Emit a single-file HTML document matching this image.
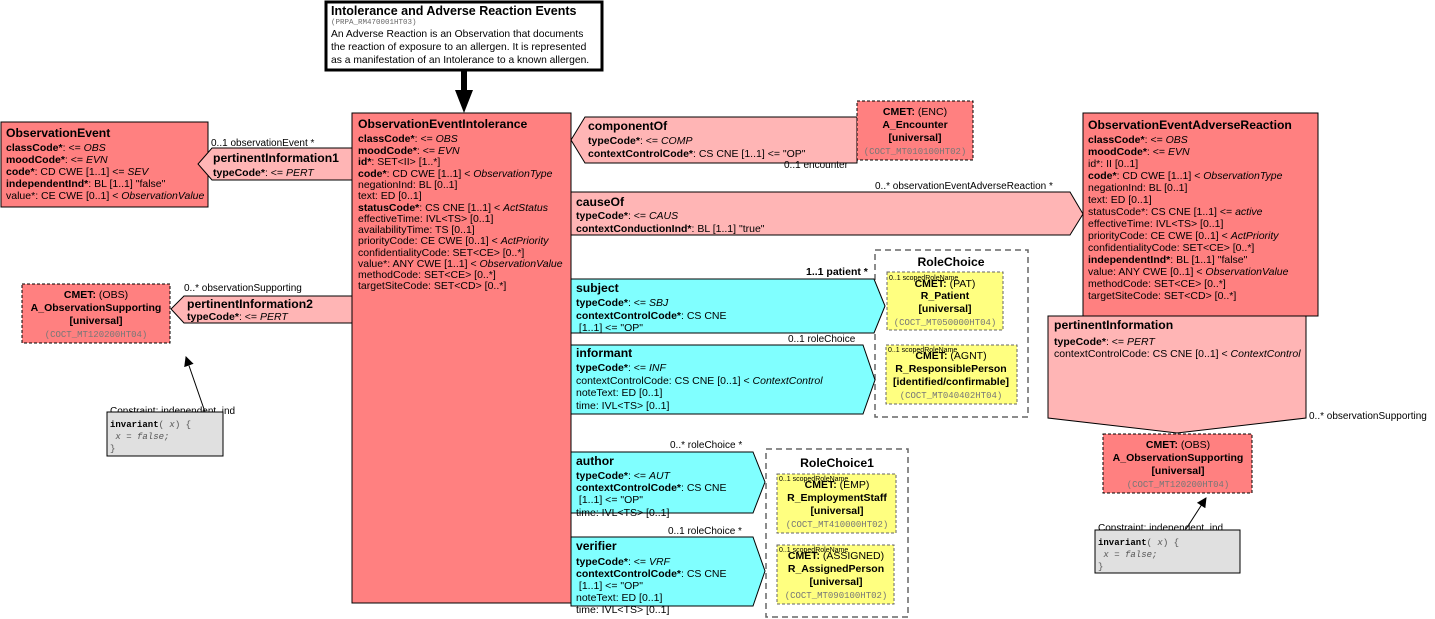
<!DOCTYPE html>
<html><head><meta charset="utf-8"><style>
html,body{margin:0;padding:0;background:#fff;}
svg{display:block;font-family:"Liberation Sans",Arial,sans-serif;}
.t{font-size:10.5px;fill:#000;}
.h{font-size:12.2px;font-weight:bold;}
.b{font-weight:bold;}
.i{font-style:italic;}
.m{font-family:"Liberation Mono",monospace;font-size:9px;fill:#777;}
.s{font-size:7px;}
.c{text-anchor:middle;}
</style></head><body>
<svg width="1435" height="619" viewBox="0 0 1435 619" xmlns="http://www.w3.org/2000/svg">
<defs><marker id="ah" markerWidth="10" markerHeight="10" refX="9" refY="5" orient="auto" markerUnits="userSpaceOnUse"><path d="M0,0 L10,5 L0,10 z" fill="#000"/></marker></defs>

<!-- Title -->
<rect x="326" y="2" width="276" height="68" fill="#fff" stroke="#000" stroke-width="3"/>
<text x="331" y="15" class="t h" style="font-size:12.5px">Intolerance and Adverse Reaction Events</text>
<text x="331" y="24" class="m" style="fill:#666;font-size:7.5px">(PRPA_RM470001HT03)</text>
<text class="t" style="font-size:10.3px"><tspan x="331" y="37">An Adverse Reaction is an Observation that documents</tspan><tspan x="331" y="50">the reaction of exposure to an allergen.  It is represented</tspan><tspan x="331" y="63">as a manifestation of an Intolerance to a known allergen.</tspan></text>
<line x1="464" y1="71" x2="464" y2="94" stroke="#000" stroke-width="6"/>
<path d="M455,90 L473,90 L464,113 z" fill="#000"/>

<!-- ObservationEventIntolerance -->
<rect x="352" y="113" width="219" height="490" fill="#ff8080" stroke="#000"/>
<text x="358" y="128" class="t h">ObservationEventIntolerance</text>
<text class="t">
<tspan x="358" y="142"><tspan class="b">classCode*</tspan>: &lt;= <tspan class="i">OBS</tspan></tspan>
<tspan x="358" y="154"><tspan class="b">moodCode*</tspan>: &lt;= <tspan class="i">EVN</tspan></tspan>
<tspan x="358" y="165"><tspan class="b">id*</tspan>: SET&lt;II&gt; [1..*]</tspan>
<tspan x="358" y="177"><tspan class="b">code*</tspan>: CD CWE [1..1] &lt; <tspan class="i">ObservationType</tspan></tspan>
<tspan x="358" y="188">negationInd: BL [0..1]</tspan>
<tspan x="358" y="199">text: ED [0..1]</tspan>
<tspan x="358" y="211"><tspan class="b">statusCode*</tspan>: CS CNE [1..1] &lt; <tspan class="i">ActStatus</tspan></tspan>
<tspan x="358" y="222">effectiveTime: IVL&lt;TS&gt; [0..1]</tspan>
<tspan x="358" y="233">availabilityTime: TS [0..1]</tspan>
<tspan x="358" y="244">priorityCode: CE CWE [0..1] &lt; <tspan class="i">ActPriority</tspan></tspan>
<tspan x="358" y="256">confidentialityCode: SET&lt;CE&gt; [0..*]</tspan>
<tspan x="358" y="267">value*: ANY CWE [1..1] &lt; <tspan class="i">ObservationValue</tspan></tspan>
<tspan x="358" y="278">methodCode: SET&lt;CE&gt; [0..*]</tspan>
<tspan x="358" y="289">targetSiteCode: SET&lt;CD&gt; [0..*]</tspan>
</text>

<!-- ObservationEvent -->
<rect x="1" y="122" width="207" height="85" fill="#ff8080" stroke="#000"/>
<text x="6" y="137" class="t h">ObservationEvent</text>
<text class="t">
<tspan x="6" y="151"><tspan class="b">classCode*</tspan>: &lt;= <tspan class="i">OBS</tspan></tspan>
<tspan x="6" y="163"><tspan class="b">moodCode*</tspan>: &lt;= <tspan class="i">EVN</tspan></tspan>
<tspan x="6" y="175"><tspan class="b">code*</tspan>: CD CWE [1..1] &lt;= <tspan class="i">SEV</tspan></tspan>
<tspan x="6" y="187"><tspan class="b">independentInd*</tspan>: BL [1..1] "false"</tspan>
<tspan x="6" y="199">value*: CE CWE [0..1] &lt; <tspan class="i">ObservationValue</tspan></tspan>
</text>

<!-- pertinentInformation1 -->
<path d="M352,148 L212,148 L198,164 L212,180 L352,180 z" fill="#ffb5b5" stroke="#000"/>
<text x="211" y="146" class="t" style="font-size:10px">0..1 observationEvent  *</text>
<text x="213" y="162" class="t h">pertinentInformation1</text>
<text x="213" y="176" class="t"><tspan class="b">typeCode*</tspan>: &lt;= <tspan class="i">PERT</tspan></text>

<!-- left CMET -->
<rect x="22" y="284" width="148" height="59" fill="#ff8080" stroke="#000" stroke-dasharray="3,2"/>
<text class="t c"><tspan x="96" y="298"><tspan class="b">CMET:</tspan> (OBS)</tspan><tspan x="96" y="311" class="b">A_ObservationSupporting</tspan><tspan x="96" y="324" class="b">[universal]</tspan></text>
<text x="96" y="337" class="m c">(COCT_MT120200HT04)</text>

<!-- pertinentInformation2 -->
<path d="M352,296 L184,296 L171,309 L184,323 L352,323 z" fill="#ffb5b5" stroke="#000"/>
<text x="184" y="291" class="t" style="font-size:10px">0..* observationSupporting</text>
<text x="187" y="308" class="t h">pertinentInformation2</text>
<text x="187" y="320" class="t"><tspan class="b">typeCode*</tspan>: &lt;= <tspan class="i">PERT</tspan></text>

<!-- left constraint -->
<line x1="205" y1="412" x2="186" y2="357" stroke="#000" marker-end="url(#ah)"/>
<text x="110" y="414" class="t" style="font-size:10px">Constraint: independent_ind</text>
<rect x="107" y="412" width="116" height="44" fill="#e0e0e0" stroke="#000"/>
<text class="m" style="fill:#555"><tspan x="110" y="427"><tspan class="b" style="fill:#000">invariant</tspan>( <tspan class="i">x</tspan>) {</tspan><tspan x="110" y="439" class="i">  x = false;</tspan><tspan x="110" y="451">}</tspan></text>

<!-- componentOf -->
<path d="M857,117 L585,117 L571,140 L585,163 L857,163 z" fill="#ffb5b5" stroke="#000"/>
<text x="588" y="130" class="t h">componentOf</text>
<text class="t"><tspan x="588" y="144"><tspan class="b">typeCode*</tspan>: &lt;= <tspan class="i">COMP</tspan></tspan><tspan x="588" y="157"><tspan class="b">contextControlCode*</tspan>: CS CNE [1..1] &lt;= "OP"</tspan></text>
<text x="784" y="168" class="t" style="font-size:10px">0..1 encounter</text>
<rect x="857" y="101" width="116" height="59" fill="#ff8080" stroke="#000" stroke-dasharray="3,2"/>
<text class="t c"><tspan x="915" y="115"><tspan class="b">CMET:</tspan> (ENC)</tspan><tspan x="915" y="128" class="b">A_Encounter</tspan><tspan x="915" y="141" class="b">[universal]</tspan></text>
<text x="915" y="154" class="m c">(COCT_MT010100HT02)</text>

<!-- causeOf -->
<path d="M571,192 L1070,192 L1083,214 L1070,235 L571,235 z" fill="#ffb5b5" stroke="#000"/>
<text x="875" y="189" class="t" style="font-size:10px">0..* observationEventAdverseReaction  *</text>
<text x="576" y="206" class="t h">causeOf</text>
<text class="t"><tspan x="576" y="219"><tspan class="b">typeCode*</tspan>: &lt;= <tspan class="i">CAUS</tspan></tspan><tspan x="576" y="232"><tspan class="b">contextConductionInd*</tspan>: BL [1..1] "true"</tspan></text>

<!-- RoleChoice -->
<rect x="875" y="250" width="153" height="167" fill="#fff" stroke="#666" stroke-dasharray="6,4" stroke-width="1.5"/>
<text x="951" y="266" class="t h c">RoleChoice</text>
<rect x="887" y="272" width="116" height="58" fill="#ffff80" stroke="#666" stroke-dasharray="3,2"/>
<text x="889" y="280" class="t s">0..1 scopedRoleName</text>
<text class="t c"><tspan x="945" y="287"><tspan class="b">CMET:</tspan> (PAT)</tspan><tspan x="945" y="299" class="b">R_Patient</tspan><tspan x="945" y="312" class="b">[universal]</tspan></text>
<text x="945" y="325" class="m c">(COCT_MT050000HT04)</text>
<rect x="886" y="345" width="131" height="59" fill="#ffff80" stroke="#666" stroke-dasharray="3,2"/>
<text x="888" y="352" class="t s">0..1 scopedRoleName</text>
<text class="t c"><tspan x="951" y="359"><tspan class="b">CMET:</tspan> (AGNT)</tspan><tspan x="951" y="372" class="b">R_ResponsiblePerson</tspan><tspan x="951" y="385" class="b">[identified/confirmable]</tspan></text>
<text x="951" y="398" class="m c">(COCT_MT040402HT04)</text>

<!-- subject -->
<path d="M571,279 L874,279 L885,306 L874,333 L571,333 z" fill="#80ffff" stroke="#000"/>
<text x="806" y="275" class="t b" style="font-size:10.5px">1..1 patient  *</text>
<text x="576" y="292" class="t h">subject</text>
<text class="t"><tspan x="576" y="306"><tspan class="b">typeCode*</tspan>: &lt;= <tspan class="i">SBJ</tspan></tspan><tspan x="576" y="319"><tspan class="b">contextControlCode*</tspan>: CS CNE</tspan><tspan x="576" y="331"> [1..1] &lt;= "OP"</tspan></text>

<!-- informant -->
<text x="788" y="342" class="t" style="font-size:10px">0..1 roleChoice</text>
<path d="M571,345 L863,345 L875,380 L863,414 L571,414 z" fill="#80ffff" stroke="#000"/>
<text x="576" y="357" class="t h">informant</text>
<text class="t"><tspan x="576" y="371"><tspan class="b">typeCode*</tspan>: &lt;= <tspan class="i">INF</tspan></tspan><tspan x="576" y="384">contextControlCode: CS CNE [0..1] &lt; <tspan class="i">ContextControl</tspan></tspan><tspan x="576" y="396">noteText: ED [0..1]</tspan><tspan x="576" y="409">time: IVL&lt;TS&gt; [0..1]</tspan></text>

<!-- RoleChoice1 -->
<rect x="766" y="449" width="142" height="168" fill="#fff" stroke="#666" stroke-dasharray="6,4" stroke-width="1.5"/>
<text x="837" y="467" class="t h c">RoleChoice1</text>
<rect x="777" y="474" width="119" height="59" fill="#ffff80" stroke="#666" stroke-dasharray="3,2"/>
<text x="779" y="481" class="t s">0..1 scopedRoleName</text>
<text class="t c"><tspan x="837" y="488"><tspan class="b">CMET:</tspan> (EMP)</tspan><tspan x="837" y="501" class="b">R_EmploymentStaff</tspan><tspan x="837" y="514" class="b">[universal]</tspan></text>
<text x="837" y="527" class="m c">(COCT_MT410000HT02)</text>
<rect x="777" y="545" width="117" height="59" fill="#ffff80" stroke="#666" stroke-dasharray="3,2"/>
<text x="779" y="552" class="t s">0..1 scopedRoleName</text>
<text class="t c"><tspan x="836" y="559"><tspan class="b">CMET:</tspan> (ASSIGNED)</tspan><tspan x="836" y="572" class="b">R_AssignedPerson</tspan><tspan x="836" y="585" class="b">[universal]</tspan></text>
<text x="836" y="598" class="m c">(COCT_MT090100HT02)</text>

<!-- author -->
<text x="670" y="448" class="t" style="font-size:10px">0..* roleChoice  *</text>
<path d="M571,452 L753,452 L765,482 L753,513 L571,513 z" fill="#80ffff" stroke="#000"/>
<text x="576" y="465" class="t h">author</text>
<text class="t"><tspan x="576" y="479"><tspan class="b">typeCode*</tspan>: &lt;= <tspan class="i">AUT</tspan></tspan><tspan x="576" y="491"><tspan class="b">contextControlCode*</tspan>: CS CNE</tspan><tspan x="576" y="503"> [1..1] &lt;= "OP"</tspan><tspan x="576" y="516">time: IVL&lt;TS&gt; [0..1]</tspan></text>

<!-- verifier -->
<text x="668" y="534" class="t" style="font-size:10px">0..1 roleChoice  *</text>
<path d="M571,537 L753,537 L765,571 L753,606 L571,606 z" fill="#80ffff" stroke="#000"/>
<text x="576" y="550" class="t h">verifier</text>
<text class="t"><tspan x="576" y="565"><tspan class="b">typeCode*</tspan>: &lt;= <tspan class="i">VRF</tspan></tspan><tspan x="576" y="577"><tspan class="b">contextControlCode*</tspan>: CS CNE</tspan><tspan x="576" y="589"> [1..1] &lt;= "OP"</tspan><tspan x="576" y="601">noteText: ED [0..1]</tspan><tspan x="576" y="613">time: IVL&lt;TS&gt; [0..1]</tspan></text>

<!-- ObservationEventAdverseReaction -->
<rect x="1083" y="113" width="235" height="203" fill="#ff8080" stroke="#000"/>
<text x="1088" y="129" class="t h">ObservationEventAdverseReaction</text>
<text class="t">
<tspan x="1088" y="143"><tspan class="b">classCode*</tspan>: &lt;= <tspan class="i">OBS</tspan></tspan>
<tspan x="1088" y="155"><tspan class="b">moodCode*</tspan>: &lt;= <tspan class="i">EVN</tspan></tspan>
<tspan x="1088" y="167">id*: II [0..1]</tspan>
<tspan x="1088" y="179"><tspan class="b">code*</tspan>: CD CWE [1..1] &lt; <tspan class="i">ObservationType</tspan></tspan>
<tspan x="1088" y="191">negationInd: BL [0..1]</tspan>
<tspan x="1088" y="203">text: ED [0..1]</tspan>
<tspan x="1088" y="215">statusCode*: CS CNE [1..1] &lt;= <tspan class="i">active</tspan></tspan>
<tspan x="1088" y="227">effectiveTime: IVL&lt;TS&gt; [0..1]</tspan>
<tspan x="1088" y="239">priorityCode: CE CWE [0..1] &lt; <tspan class="i">ActPriority</tspan></tspan>
<tspan x="1088" y="251">confidentialityCode: SET&lt;CE&gt; [0..*]</tspan>
<tspan x="1088" y="263"><tspan class="b">independentInd*</tspan>: BL [1..1] "false"</tspan>
<tspan x="1088" y="275">value: ANY CWE [0..1] &lt; <tspan class="i">ObservationValue</tspan></tspan>
<tspan x="1088" y="287">methodCode: SET&lt;CE&gt; [0..*]</tspan>
<tspan x="1088" y="299">targetSiteCode: SET&lt;CD&gt; [0..*]</tspan>
</text>

<!-- pertinentInformation right -->
<path d="M1048,316 L1306,316 L1306,418 L1177,433 L1048,418 z" fill="#ffb5b5" stroke="#000"/>
<text x="1054" y="329" class="t h">pertinentInformation</text>
<text class="t"><tspan x="1054" y="345"><tspan class="b">typeCode*</tspan>: &lt;= <tspan class="i">PERT</tspan></tspan><tspan x="1054" y="357">contextControlCode: CS CNE [0..1] &lt; <tspan class="i">ContextControl</tspan></tspan></text>
<text x="1309" y="419" class="t" style="font-size:10px">0..* observationSupporting</text>

<!-- right CMET -->
<rect x="1103" y="434" width="149" height="59" fill="#ff8080" stroke="#000" stroke-dasharray="3,2"/>
<text class="t c"><tspan x="1178" y="448"><tspan class="b">CMET:</tspan> (OBS)</tspan><tspan x="1178" y="461" class="b">A_ObservationSupporting</tspan><tspan x="1178" y="474" class="b">[universal]</tspan></text>
<text x="1178" y="487" class="m c">(COCT_MT120200HT04)</text>

<!-- right constraint -->
<line x1="1186" y1="529" x2="1206" y2="498" stroke="#000" marker-end="url(#ah)"/>
<text x="1098" y="531" class="t" style="font-size:10px">Constraint: independent_ind</text>
<rect x="1095" y="530" width="145" height="43" fill="#e0e0e0" stroke="#000"/>
<text class="m" style="fill:#555"><tspan x="1098" y="545"><tspan class="b" style="fill:#000">invariant</tspan>( <tspan class="i">x</tspan>) {</tspan><tspan x="1098" y="557" class="i">  x = false;</tspan><tspan x="1098" y="569">}</tspan></text>
</svg>
</body></html>
